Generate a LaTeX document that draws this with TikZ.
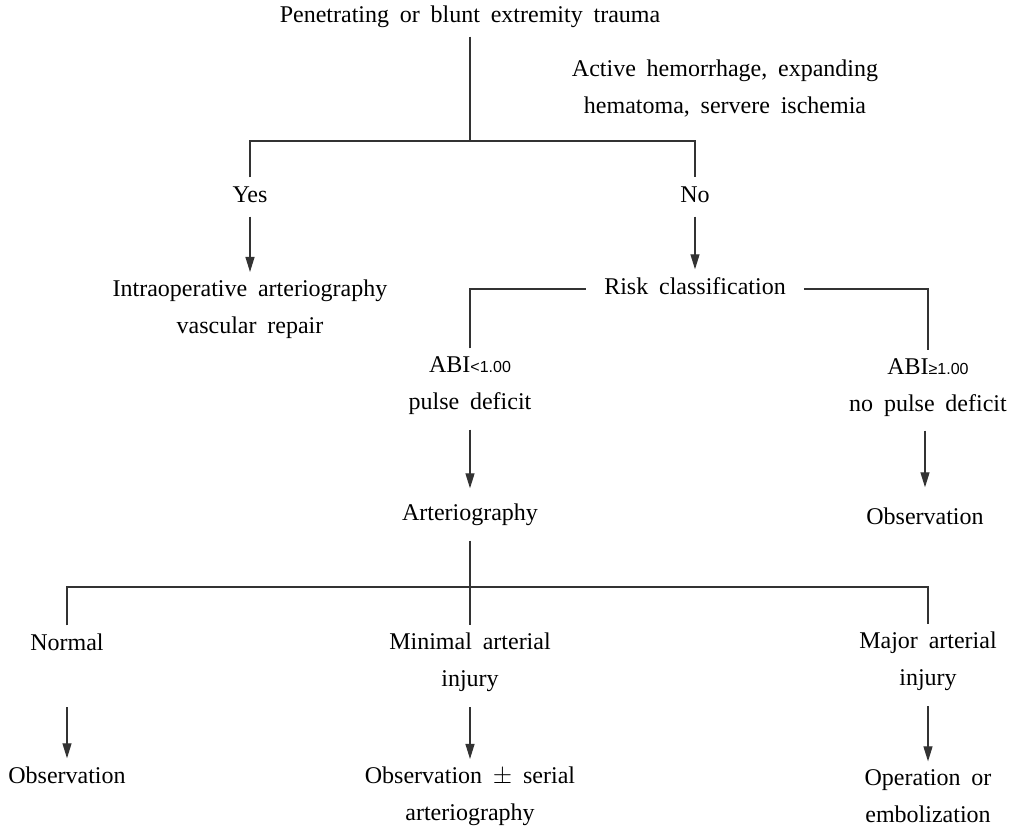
\documentclass[tikz,border=0pt]{standalone}
\usepackage{fontspec}
\setmainfont{Liberation Serif}[WordSpace=1.8]
\newfontfamily\abifont{Liberation Sans}
\newcommand{\linestrut}{\rule[-6pt]{0pt}{23pt}}
\usetikzlibrary{arrows.meta,positioning}

\begin{document}
\begin{tikzpicture}[
x=1pt,y=-1pt,
txt/.style={
  font=\fontsize{24}{37}\selectfont,
  align=center,
  execute at begin node=\linestrut,
  execute at end node=\linestrut,
  inner xsep=4pt,
  inner ysep=8pt
  },
link/.style={
  line width=1.2pt,
  draw=black!80
  },
arr/.style={
  link,
  -{Triangle[length=15pt,width=9pt]}
  }
]
\useasboundingbox (0,0) rectangle (1015,829);

% top of the tree
\node[txt] (trauma) at (470,17) {Penetrating or blunt extremity trauma};
\node[txt] (bleed) at (725,90) {Active hemorrhage, expanding\\hematoma, servere ischemia};
\coordinate (fork1) at (470,141);
\node[txt] (yes) at (250,197) {Yes};
\node[txt] (no) at (695,197) {No};
\node[txt] (repair) at (250,310) {Intraoperative arteriography\\vascular repair};
\node[txt,inner xsep=18pt] (risk) at (695,289) {Risk classification};

% risk classes
\node[txt] (abilow) at (470,386) {ABI{\abifont\fontsize{16}{16}\selectfont<1.00}\\pulse deficit};
\node[txt] (abihigh) at (928,388) {ABI{\abifont\fontsize{16}{16}\selectfont≥1.00}\\no pulse deficit};
\node[txt] (arterio) at (470,515) {Arteriography};
\node[txt] (obsR) at (925,519) {Observation};

% findings
\coordinate (fork2) at (470,587);
\node[txt] (normal) at (67,645) {Normal};
\node[txt] (minimal) at (470,663) {Minimal arterial\\injury};
\node[txt] (major) at (928,662) {Major arterial\\injury};
\node[txt] (obsL) at (67,778) {Observation};
\node[txt] (serial) at (470,797) {Observation $\pm$ serial\\arteriography};
\node[txt] (operation) at (928,799) {Operation or\\embolization};

\draw[link] (trauma) -- (fork1);
\draw[link] (yes.north) |- (fork1) -| (no.north);
\draw[arr] (yes) -- (repair);
\draw[arr] (no) -- (risk);
\draw[link] (abilow.north) |- (risk.west);
\draw[link] (risk.east) -| (abihigh.north);
\draw[arr,shorten <=6pt,shorten >=7pt] (abilow) -- (arterio);
\draw[arr,shorten <=5pt,shorten >=12pt] (abihigh.south -| obsR) -- (obsR);
\draw[link,shorten <=6pt] (arterio) -- (fork2);
\draw[link] (normal.north) |- (fork2) -| (major.north);
\draw[link] (fork2) -- (minimal);
\draw[arr,shorten <=6pt] (normal.south |- minimal.south) -- (obsL);
\draw[arr,shorten <=6pt] (minimal) -- (serial);
\draw[arr,shorten <=6pt] (major) -- (operation);
\end{tikzpicture}
\end{document}
